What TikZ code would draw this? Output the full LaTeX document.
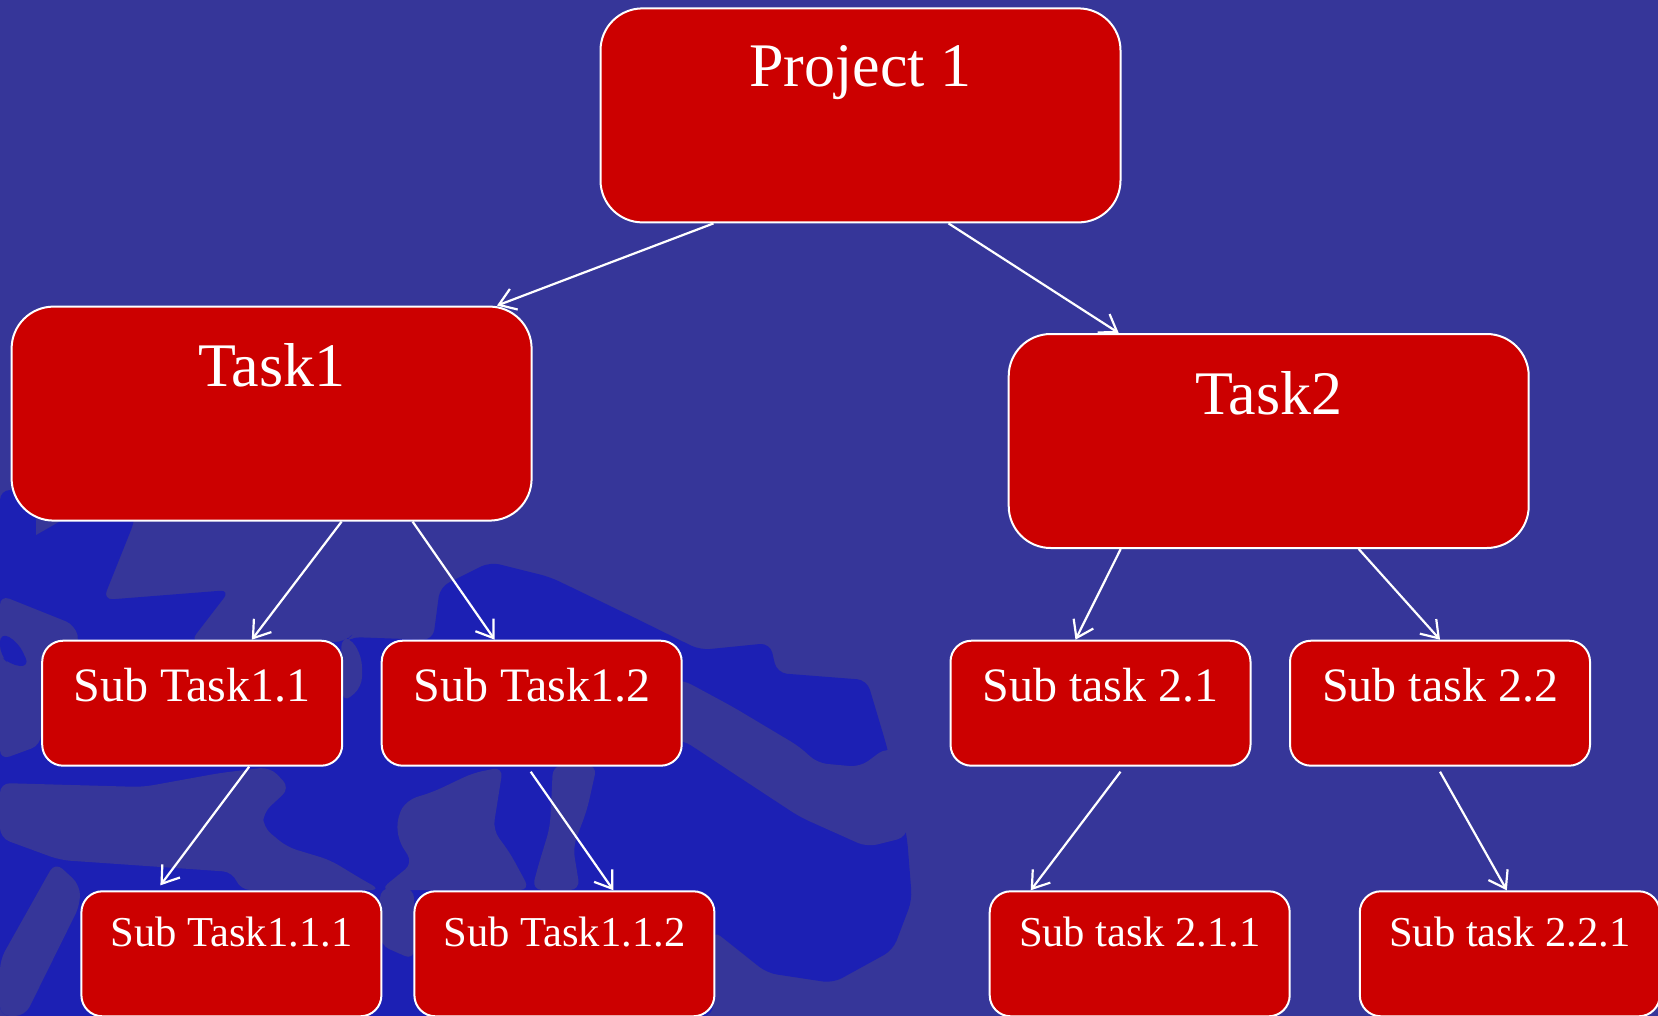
\documentclass[tikz,border=0pt]{standalone}
\usepackage{fontspec}
\setmainfont{Liberation Serif}
\usetikzlibrary{arrows.meta}
\definecolor{bgdull}{HTML}{363699}
\definecolor{bgbright}{HTML}{1C20B4}
\definecolor{boxred}{HTML}{CC0000}
\tikzset{
  boxbase/.style={draw=white, line width=1pt, fill=boxred, rectangle, inner sep=0pt, anchor=north west},
  bigbox/.style={boxbase, minimum width=260pt, minimum height=107pt, rounded corners=21pt},
  smallbox/.style={boxbase, minimum width=150pt, minimum height=62.5pt, rounded corners=10.5pt},
  lblbig/.style={text=white, anchor=base, inner sep=0pt, font=\fontsize{31pt}{36pt}\selectfont},
  lblmid/.style={text=white, anchor=base, inner sep=0pt, font=\fontsize{24pt}{29pt}\selectfont},
  lblsml/.style={text=white, anchor=base, inner sep=0pt, font=\fontsize{21.3pt}{26pt}\selectfont},
  conn/.style={draw=white, line width=1.1pt, -{Straight Barb[length=8pt,width=11pt]}},
  blobdull/.style={fill=bgdull, rounded corners=5pt},
  blobbright/.style={fill=bgbright, rounded corners=5pt}
}
\begin{document}
\begin{tikzpicture}[x=0.5pt,y=-0.5pt]
\useasboundingbox (0,0) rectangle (1658,1016);
\fill[bgdull] (0,0) rectangle (1658,1016);
% watermark blob
\fill[blobbright] (0,490) -- (135,490) -- (135,520) -- (103,600) -- (230,590) -- (190,642) -- (345,642) -- (350,637) -- (433,640) -- (440,587) -- (490,562) -- (550,577) -- (633,617) -- (700,650) -- (770,643) -- (777,673) -- (867,680) -- (887,747) -- (907,837) -- (912,900) -- (893,950) -- (833,983) -- (767,973) -- (713,930) -- (713,1016) -- (0,1016) -- cycle;
\fill[blobdull] (650,680) -- (683,680) -- (733,707) -- (800,747) -- (817,763) -- (860,767) -- (887,747) -- (910,760) -- (907,837) -- (867,847) -- (800,817) -- (733,773) -- (683,740) -- (650,740) -- cycle;
\fill[bgdull] (36,519) -- (64,519) -- (36,535) -- cycle;
\fill[blobdull] (0,595) -- (75,625) -- (80,645) -- (41,660) -- (41,745) -- (0,760) -- cycle;
\fill[blobbright] (0,632) -- (18,642) -- (30,667) -- (10,665) -- (0,655) -- cycle;
\fill[blobdull] (0,783) -- (143,787) -- (220,773) -- (270,767) -- (290,788) -- (263,813) -- (263,827) -- (287,847) -- (330,860) -- (363,880) -- (381,890) -- (240,890) -- (233,872) -- (60,860) -- (0,838) -- cycle;
\fill[blobdull] (55,862) -- (80,885) -- (80,905) -- (25,1016) -- (0,1016) -- (0,960) -- cycle;
\fill[blobdull] (407,800) -- (433,792) -- (473,773) -- (503,767) -- (493,830) -- (510,853) -- (530,890) -- (380,890) -- (413,863) -- (398,840) -- (397,817) -- cycle;
\fill[blobdull] (553,765) -- (597,765) -- (587,810) -- (573,847) -- (580,890) -- (532,890) -- (537,870) -- (550,827) -- cycle;
\fill[blobdull] (341,637) -- (350,637) -- (362,657) -- (362,687) -- (343,703) -- cycle;
\fill[blobdull] (380,888) -- (414,888) -- (414,960) -- (380,945) -- cycle;
% boxes
\node[bigbox] (p) at (599.5,7.4) {};
\node[bigbox] (t1) at (10.6,305.6) {};
\node[bigbox] (t2) at (1007.7,333) {};
\node[smallbox] (s11) at (41.2,639.7) {};
\node[smallbox] (s12) at (380.7,639.7) {};
\node[smallbox] (s21) at (949.5,639.7) {};
\node[smallbox] (s22) at (1289,639.7) {};
\node[smallbox] (s111) at (80.4,890.3) {};
\node[smallbox] (s112) at (413.4,890.3) {};
\node[smallbox] (s211) at (988.7,890.3) {};
\node[smallbox] (s221) at (1358.8,890.3) {};
% labels
\node[lblbig] (pl) at ([yshift=-39.7pt]p.north) {Project 1};
\node[lblbig] (t1l) at ([yshift=-40.2pt]t1.north) {Task1};
\node[lblbig] (t2l) at ([yshift=-40.6pt]t2.north) {Task2};
\node[lblmid] (s11l) at ([yshift=-31pt]s11.north) {Sub Task1.1};
\node[lblmid] (s12l) at ([yshift=-31pt]s12.north) {Sub Task1.2};
\node[lblmid] (s21l) at ([yshift=-31pt]s21.north) {Sub task 2.1};
\node[lblmid] (s22l) at ([yshift=-31pt]s22.north) {Sub task 2.2};
\node[lblsml] (s111l) at ([yshift=-28.1pt]s111.north) {Sub Task1.1.1};
\node[lblsml] (s112l) at ([yshift=-28.1pt]s112.north) {Sub Task1.1.2};
\node[lblsml] (s211l) at ([yshift=-28.1pt]s211.north) {Sub task 2.1.1};
\node[lblsml] (s221l) at ([yshift=-28.1pt]s221.north) {Sub task 2.2.1};
% connectors
\draw[conn] ([xshift=57pt]p.south west) -- ([xshift=243.2pt]t1.north west);
\draw[conn] ([xshift=174.5pt]p.south west) -- ([xshift=55.5pt]t2.north west);
\draw[conn] ([xshift=165.5pt]t1.south west) -- ([xshift=105.3pt]s11.north west);
\draw[conn] ([xshift=201pt]t1.south west) -- ([xshift=57pt]s12.north west);
\draw[conn] ([xshift=56.5pt]t2.south west) -- ([xshift=63pt]s21.north west);
\draw[conn] ([xshift=175.5pt]t2.south west) -- ([xshift=75.5pt]s22.north west);
\draw[conn] ([xshift=104pt]s11.south west) -- ([xshift=40pt,yshift=2.5pt]s111.north west);
\draw[conn] ([xshift=75pt,yshift=-2.5pt]s12.south west) -- ([xshift=100pt]s112.north west);
\draw[conn] ([xshift=85.5pt,yshift=-2.5pt]s21.south west) -- ([xshift=21pt]s211.north west);
\draw[conn] ([xshift=75.5pt,yshift=-2.5pt]s22.south west) -- ([xshift=74pt]s221.north west);
\end{tikzpicture}
\end{document}
